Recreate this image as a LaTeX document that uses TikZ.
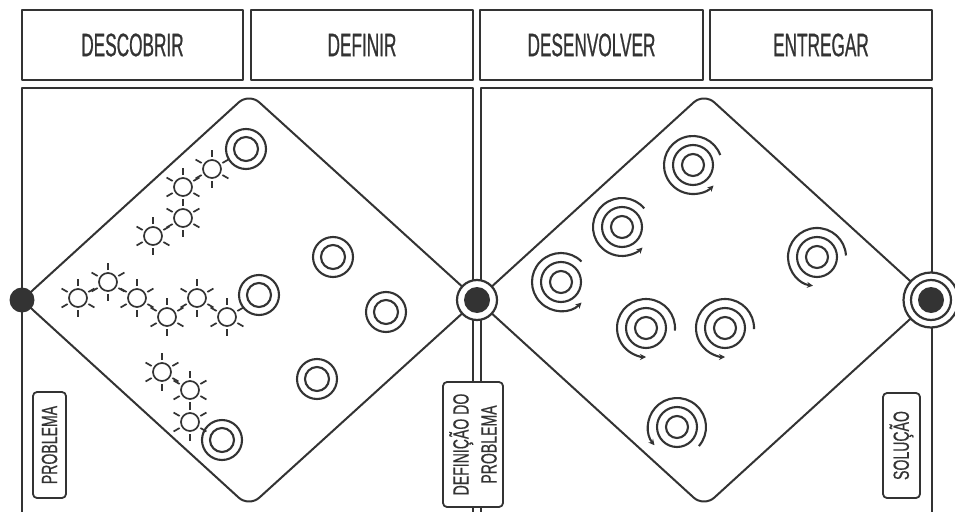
\documentclass[tikz,border=0pt]{standalone}
\usepackage{fontspec}
\newfontfamily\headfont[FakeStretch=0.53,FakeBold=0.6]{Liberation Sans}
\newfontfamily\labfont[FakeStretch=0.64,FakeBold=0.5]{Liberation Sans}
\usetikzlibrary{arrows.meta}
\definecolor{ink}{HTML}{333333}
\newcommand\spir[4]{%
  \draw[tline] (#1,#2) circle (11pt);
  \draw[tline] (#1,#2) circle (20pt);
  \draw[tline,-{Stealth[length=6pt,width=6pt]}] ([shift={(#3:29pt)}]#1,#2) arc[start angle=#3,end angle=#4,radius=29pt];
}
\begin{document}
\begin{tikzpicture}[x=1pt,y=-1pt,line join=round,
  hbox/.style={draw=ink,line width=2.2pt,minimum width=221pt,minimum height=70pt,inner sep=0pt,text=ink,font=\headfont\fontsize{32.5}{32}\selectfont},
  lbox/.style={draw=ink,line width=1.8pt,rounded corners=4pt,fill=white,rotate=90,inner sep=0pt,text=ink,align=center,font=\labfont\fontsize{22}{28}\selectfont},
  frame/.style={draw=ink,line width=2.2pt},
  dia/.style={draw=ink,line width=2pt,rounded corners=14pt},
  sunline/.style={draw=ink,line width=1.7pt},
  tline/.style={draw=ink,line width=2.1pt},
  dot/.style={circle,fill=ink,inner sep=0pt,minimum size=#1},
  ring/.style={circle,draw=ink,line width=2.2pt,fill=white,inner sep=0pt,minimum size=#1},
  sun/.pic={\draw[sunline] (0,0) circle (9pt);
    \foreach \a in {30,90,150,210,270,330} \draw[sunline] (\a:12pt) -- (\a:19pt);},
  target/.pic={\draw[tline] (0,0) circle (20pt); \draw[tline] (0,0) circle (12pt);}
]
\useasboundingbox (0,0) rectangle (955,511);
\fill[white] (0,0) rectangle (955,511);

% headers
\node[hbox] (h1) at (132.5,45) {DESCOBRIR};
\node[hbox,minimum width=222pt] (h2) at (362,45) {DEFINIR};
\node[hbox,minimum width=223pt] (h3) at (591.5,45) {DESENVOLVER};
\node[hbox,minimum width=222pt] (h4) at (821,45) {ENTREGAR};

% panels
\draw[frame] (22,520) -- (22,88) -- (473,88) -- (473,520);
\draw[frame] (481,520) -- (481,88) -- (932,88) -- (932,520);

% diamonds
\coordinate (L) at (22,300);
\coordinate (M) at (477,300);
\coordinate (R) at (931,300);
\coordinate (T1) at (249,93);
\coordinate (B1) at (249,507);
\coordinate (T2) at (704,93);
\coordinate (B2) at (704,507);
\draw[dia] (L) -- (T1) -- (M) -- (B1) -- cycle;
\draw[dia] (M) -- (T2) -- (R) -- (B2) -- cycle;

% vertex marks
\node[dot=25pt] (pL) at (L) {};
\node[ring=40pt] (pM) at (M) {};
\node[dot=26pt] (pMd) at (M) {};
\node[ring=55pt] (pR) at (R) {};
\node[ring=40pt] (pRr) at (R) {};
\node[dot=26pt] (pRd) at (R) {};

% labels
\node[lbox,minimum width=106pt,minimum height=33pt] (lp) at (49.5,445) {PROBLEMA};
\node[lbox,minimum width=125pt,minimum height=60pt] (ld) at (473,444.5) {DEFINIÇÃO DO\\PROBLEMA};
\node[lbox,minimum width=105pt,minimum height=37pt] (ls) at (901.5,445.5) {SOLUÇÃO};

% suns
\foreach \p in {(78,298),(108,282),(137,298),(167,317),(197,298),(227,317),
                (212,169),(183,187),(183,218),(153,236),
                (162,372),(190,390),(190,422)}
  \pic at \p {sun};

% targets
\foreach \p in {(246,149),(259,295),(222,440),(333,257),(386,312),(317,379)}
  \pic at \p {target};

% spirals
\spir{693}{165}{20}{315}
\spir{622}{227}{40}{315}
\spir{561}{282}{45}{315}
\spir{646}{328}{-5}{270}
\spir{725}{328}{-2}{270}
\spir{677}{427}{-41}{219}
\spir{817}{257}{3}{262}
\end{tikzpicture}
\end{document}
